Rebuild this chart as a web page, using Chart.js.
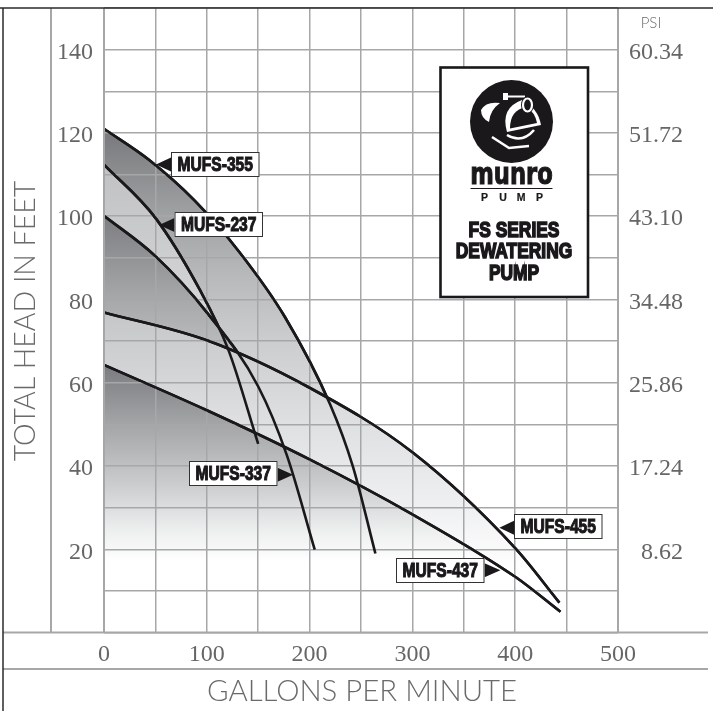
<!DOCTYPE html>
<html lang="en">
<head>
    <meta charset="UTF-8" />
    <title>FS Series Dewatering Pump Curves</title>
    <script src="https://cdn.jsdelivr.net/npm/chart.js"></script>
    <style>
        html, body { margin: 0; padding: 0; background: #fff; }
        canvas { display: block; }
    </style>
</head>
<body>
    <canvas id="pumpCanvas" width="713" height="711"></canvas>
    <script>
        const headTicks = [20, 40, 60, 80, 100, 120, 140];
        const psiTicks = ["8.62", "17.24", "25.86", "34.48", "43.10", "51.72", "60.34"];
        const gpmTicks = [0, 100, 200, 300, 400, 500];

        const mufs355Gpm = [0, 44, 88, 132, 176, 220, 242, 264];
        const mufs355Head = [121, 113.5, 103.8, 91.3, 75.8, 54.8, 40, 19];
        const mufs237Gpm = [0, 50, 93, 121, 150];
        const mufs237Head = [112.4, 99.6, 82.4, 67.9, 45.3];
        const mufs337Gpm = [0, 50, 100, 150, 178, 205];
        const mufs337Head = [100.1, 90.4, 76.9, 59.1, 42.5, 19.9];
        const mufs455Gpm = [0, 100, 200, 300, 400, 443];
        const mufs455Head = [76.9, 70.2, 58.8, 43.3, 20.3, 7.2];
        const mufs437Gpm = [0, 100, 200, 300, 400, 444];
        const mufs437Head = [64.3, 53.4, 41.6, 28.4, 13.4, 5];

        const toPoints = (gpm, head) => gpm.map((x, i) => ({ x: x, y: head[i] }));

        // vertical fill, stops are [head, colour]
        function fade(stops) {
            return function (ctx) {
                const chart = ctx.chart;
                if (!chart.chartArea) return "transparent";
                const yScale = chart.scales.y;
                const top = yScale.getPixelForValue(stops[0][0]);
                const bottom = yScale.getPixelForValue(stops[stops.length - 1][0]);
                const g = chart.ctx.createLinearGradient(0, top, 0, bottom);
                stops.forEach((s) => {
                    g.addColorStop((yScale.getPixelForValue(s[0]) - top) / (bottom - top), s[1]);
                });
                return g;
            };
        }

        function curve(label, gpm, head, stops, order) {
            return {
                label: label,
                data: toPoints(gpm, head),
                borderColor: "#1a181a",
                borderWidth: 2.6,
                pointRadius: 0,
                cubicInterpolationMode: "monotone",
                fill: "origin",
                backgroundColor: fade(stops),
                order: order,
            };
        }

        const framePlugin = {
            id: "frame",
            afterDraw(chart) {
                const ctx = chart.ctx;
                const a = chart.chartArea;
                const xs = chart.scales.x;
                const ys = chart.scales.y;

                // lines again, above the grid
                chart.data.datasets.forEach((d, i) => chart.getDatasetMeta(i).dataset.draw(ctx, a));

                const line = (x1, y1, x2, y2, color, w) => {
                    ctx.beginPath();
                    ctx.moveTo(x1, y1);
                    ctx.lineTo(x2, y2);
                    ctx.strokeStyle = color;
                    ctx.lineWidth = w;
                    ctx.stroke();
                };
                line(51, 8, 51, a.bottom, "#a5a7a9", 2);
                line(a.left, 8, a.left, a.bottom, "#a5a7a9", 2);
                line(a.right, 8, a.right, a.bottom, "#a5a7a9", 2);
                line(3, a.bottom, 708, a.bottom, "#a5a7a9", 2);
                line(3, 669, 708, 669, "#a5a7a9", 2);
                line(0, 8, 713, 8, "#2b292a", 1.5);
                line(3, 8, 3, 711, "#2b292a", 1.5);

                // axis titles
                ctx.fillStyle = "#6a6a6a";
                ctx.font = "300 29.4px Lato";
                ctx.textAlign = "center";
                ctx.textBaseline = "middle";
                ctx.fillText("GALLONS PER MINUTE", 362, 692);
                ctx.save();
                ctx.translate(26, 321);
                ctx.rotate(-Math.PI / 2);
                ctx.font = "300 28.5px Lato";
                ctx.fillText("TOTAL HEAD IN FEET", 0, 0);
                ctx.restore();
                ctx.font = "300 15px Lato";
                ctx.fillText("PSI", 651, 23);

                // heavy black text, squeezed sideways if needed
                const heavy = (text, x, y, font, squeeze, weight) => {
                    ctx.save();
                    ctx.translate(x, y);
                    ctx.scale(squeeze, 1);
                    ctx.font = font;
                    ctx.textAlign = "center";
                    ctx.fillStyle = "#1a181a";
                    ctx.strokeStyle = "#1a181a";
                    ctx.lineWidth = weight;
                    ctx.fillText(text, 0, 0);
                    ctx.strokeText(text, 0, 0);
                    ctx.restore();
                };

                // callouts, arrow tip sits on the curve
                const callout = (text, gpm, head, boxLeft, boxTop, dir) => {
                    const tipX = xs.getPixelForValue(gpm);
                    const tipY = ys.getPixelForValue(head);
                    const boxW = 88.5;
                    const boxH = 25;
                    const edge = dir < 0 ? boxLeft : boxLeft + boxW;
                    ctx.beginPath();
                    ctx.moveTo(tipX, tipY);
                    ctx.lineTo(edge, tipY - 7);
                    ctx.lineTo(edge, tipY + 7);
                    ctx.closePath();
                    ctx.fillStyle = "#1a181a";
                    ctx.fill();
                    ctx.fillStyle = "#fff";
                    ctx.fillRect(boxLeft, boxTop, boxW, boxH);
                    ctx.strokeStyle = "#333";
                    ctx.lineWidth = 1;
                    ctx.strokeRect(boxLeft + 0.5, boxTop + 0.5, boxW - 1, boxH - 1);
                    heavy(text, boxLeft + boxW / 2, boxTop + boxH / 2 + 1, "bold 19.5px 'Liberation Sans'", 0.8, 1.1);
                };
                callout("MUFS-355", 50.6, 112.4, 171, 152, -1);
                callout("MUFS-237", 53.6, 97.9, 174.5, 212, -1);
                callout("MUFS-337", 184, 37.9, 189, 461, 1);
                callout("MUFS-455", 384.6, 25.2, 514, 514, -1);
                callout("MUFS-437", 385.6, 15, 396, 558, 1);

                // logo panel
                ctx.fillStyle = "#fff";
                ctx.fillRect(440.5, 67.5, 147.5, 229.5);
                ctx.strokeStyle = "#1a181a";
                ctx.lineWidth = 2.6;
                ctx.strokeRect(440.5, 67.5, 147.5, 229.5);
                ctx.fillStyle = "#1a181a";
                ctx.beginPath();
                ctx.arc(511.5, 121.5, 41.5, 0, Math.PI * 2);
                ctx.fill();

                // pump drawing inside the circle
                ctx.fillStyle = "#fff";
                ctx.beginPath();
                ctx.moveTo(481, 110);
                ctx.quadraticCurveTo(486, 101, 500, 103);
                ctx.quadraticCurveTo(490, 110, 489, 122);
                ctx.quadraticCurveTo(481, 118, 481, 110);
                ctx.fill();
                ctx.fillRect(504, 95.5, 21, 2);
                ctx.fillRect(503, 93, 5, 7);
                ctx.beginPath();
                ctx.moveTo(507, 132);
                ctx.quadraticCurveTo(500, 108, 522, 100);
                ctx.quadraticCurveTo(538, 108, 541, 125);
                ctx.closePath();
                ctx.fill();
                ctx.fillStyle = "#1a181a";
                ctx.beginPath();
                ctx.moveTo(510, 128.5);
                ctx.quadraticCurveTo(510, 110, 526, 107);
                ctx.quadraticCurveTo(535, 112, 537, 123);
                ctx.closePath();
                ctx.fill();
                ctx.beginPath();
                ctx.ellipse(527.5, 105, 6.5, 8.5, 0, 0, Math.PI * 2);
                ctx.fill();
                ctx.strokeStyle = "#fff";
                ctx.lineWidth = 2.2;
                ctx.beginPath();
                ctx.ellipse(527.5, 105, 4.5, 6.5, 0, 0, Math.PI * 2);
                ctx.stroke();
                ctx.lineWidth = 2.6;
                ctx.beginPath();
                ctx.moveTo(507, 135);
                ctx.quadraticCurveTo(522, 144, 534, 130);
                ctx.stroke();
                ctx.beginPath();
                ctx.moveTo(492, 137);
                ctx.lineTo(509, 148);
                ctx.lineTo(529, 146);
                ctx.stroke();

                heavy("munro", 511.5, 176, "bold 31px 'DejaVu Sans'", 0.73, 1.1);
                line(470.5, 188.5, 552.5, 188.5, "#1a181a", 1);
                [["P", 484.5], ["U", 503], ["M", 521], ["P", 539.5]].forEach((l) => {
                    heavy(l[0], l[1], 198, "bold 10.5px 'Liberation Sans'", 1, 0.2);
                });
                ["FS SERIES", "DEWATERING", "PUMP"].forEach((t, i) => {
                    heavy(t, 514, 231 + i * 21.3, "bold 22px 'Liberation Sans'", 0.79, 1.6);
                });
            },
        };

        const tickColor = "#666";
        const tickFont = { family: "Liberation Serif", size: 24 };
        // no room reserved for the label overhang, the plot box is fixed
        const noPadding = (scale) => {
            scale.paddingTop = 0;
            scale.paddingBottom = 0;
            scale.paddingLeft = 0;
            scale.paddingRight = 0;
        };

        new Chart(document.getElementById("pumpCanvas"), {
            type: "line",
            data: {
                datasets: [
                    curve("MUFS-437", mufs437Gpm, mufs437Head,
                        [[65, "#77797c"], [50, "#a3a5a7"], [35, "#cdced0"], [25, "#eceded"], [17, "#ffffff"]], 1),
                    curve("MUFS-455", mufs455Gpm, mufs455Head,
                        [[77, "#c4c6c8"], [50, "#dfe0e2"], [30, "#eff0f1"], [15, "#ffffff"]], 2),
                    curve("MUFS-337", mufs337Gpm, mufs337Head,
                        [[100, "#7c7e81"], [80, "#a6a8aa"], [65, "#c0c2c4"], [45, "#dcdde0"], [15, "#ffffff"]], 3),
                    curve("MUFS-237", mufs237Gpm, mufs237Head,
                        [[113, "#bfc1c3"], [80, "#d3d4d6"], [50, "#e0e1e3"], [15, "#ffffff"]], 4),
                    curve("MUFS-355", mufs355Gpm, mufs355Head,
                        [[121, "#76787b"], [100, "#a0a2a4"], [85, "#b8babc"], [70, "#cccdcf"], [50, "#dfe0e2"], [15, "#ffffff"]], 5),
                ],
            },
            options: {
                responsive: false,
                animation: false,
                events: [],
                layout: { padding: { top: 8, left: 0, right: 30, bottom: 0 } },
                plugins: { legend: { display: false }, tooltip: { enabled: false } },
                scales: {
                    x: {
                        type: "linear",
                        min: 0,
                        max: 500,
                        afterFit(scale) { scale.height = 78.4; noPadding(scale); },
                        grid: { color: "#a5a7a9", lineWidth: 1.5, drawTicks: false, z: 1 },
                        border: { display: false },
                        ticks: {
                            stepSize: 50,
                            autoSkip: false,
                            maxRotation: 0,
                            color: tickColor,
                            font: tickFont,
                            padding: 8,
                            callback: (v) => (gpmTicks.includes(v) ? v : ""),
                        },
                    },
                    y: {
                        position: "left",
                        min: 0,
                        max: 150,
                        afterFit(scale) { scale.width = 104; noPadding(scale); },
                        grid: { color: "#a5a7a9", lineWidth: 1.5, drawTicks: false, z: 1 },
                        border: { display: false },
                        ticks: {
                            stepSize: 10,
                            autoSkip: false,
                            color: tickColor,
                            font: tickFont,
                            padding: 11,
                            labelOffset: 3,
                            callback: (v) => (headTicks.includes(v) ? v : ""),
                        },
                    },
                    psi: {
                        position: "right",
                        min: 0,
                        max: 150,
                        afterFit(scale) { scale.width = 65; noPadding(scale); },
                        grid: { display: false },
                        border: { display: false },
                        ticks: {
                            stepSize: 10,
                            autoSkip: false,
                            crossAlign: "far",
                            color: tickColor,
                            font: tickFont,
                            labelOffset: 3,
                            callback: (v) => {
                                const i = headTicks.indexOf(v);
                                return i < 0 ? "" : psiTicks[i];
                            },
                        },
                    },
                },
            },
            plugins: [framePlugin],
        });
    </script>
</body>
</html>
